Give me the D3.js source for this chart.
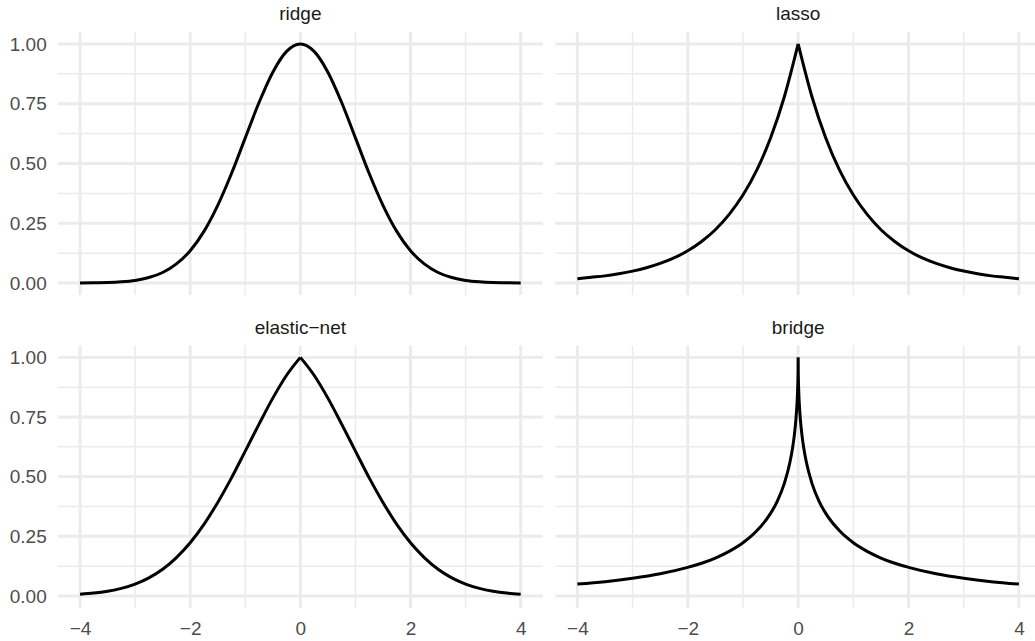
<!DOCTYPE html>
<html>
<head>
<meta charset="utf-8">
<script src="https://cdn.jsdelivr.net/npm/d3@7"></script>
<style>
  html, body { margin: 0; padding: 0; background: #ffffff; }
  svg { display: block; font-family: "Liberation Sans", Arial, Helvetica, sans-serif; }
</style>
</head>
<body>
<svg id="chart" width="1035" height="641"></svg>
<script>
// ---------------- data ----------------
const panelNames = ["ridge", "lasso", "elastic\u2212net", "bridge"];

const xTickValues = [-4, -2, 0, 2, 4];
const xTickLabels = ["\u22124", "\u22122", "0", "2", "4"];
const xMinorValues = [-3, -1, 1, 3];
const yTickValues = [0, 0.25, 0.5, 0.75, 1];
const yTickLabels = ["0.00", "0.25", "0.50", "0.75", "1.00"];
const yMinorValues = [0.125, 0.375, 0.625, 0.875];

// common x grid for ridge, lasso, elastic-net
const xGrid = [-4, -3.75, -3.5, -3.25, -3, -2.75, -2.5, -2.25, -2, -1.75, -1.5, -1.25, -1, -0.75, -0.5, -0.25,
               0, 0.25, 0.5, 0.75, 1, 1.25, 1.5, 1.75, 2, 2.25, 2.5, 2.75, 3, 3.25, 3.5, 3.75, 4];

const ridgeY = [0.000, 0.001, 0.002, 0.005, 0.011, 0.023, 0.044, 0.080, 0.135, 0.216, 0.325, 0.458, 0.607, 0.755, 0.882, 0.969,
                1.000, 0.969, 0.882, 0.755, 0.607, 0.458, 0.325, 0.216, 0.135, 0.080, 0.044, 0.023, 0.011, 0.005, 0.002, 0.001, 0.000];

const lassoY = [0.018, 0.024, 0.030, 0.039, 0.050, 0.064, 0.082, 0.105, 0.135, 0.174, 0.223, 0.287, 0.368, 0.472, 0.607, 0.779,
                1.000, 0.779, 0.607, 0.472, 0.368, 0.287, 0.223, 0.174, 0.135, 0.105, 0.082, 0.064, 0.050, 0.039, 0.030, 0.024, 0.018];

const elasticY = [0.007, 0.012, 0.020, 0.032, 0.050, 0.076, 0.112, 0.161, 0.223, 0.300, 0.392, 0.495, 0.607, 0.720, 0.829, 0.925,
                  1.000, 0.925, 0.829, 0.720, 0.607, 0.495, 0.392, 0.300, 0.223, 0.161, 0.112, 0.076, 0.050, 0.032, 0.020, 0.012, 0.007];

// bridge needs a finer grid near zero
const bridgeX = [-4, -3.5, -3, -2.5, -2, -1.75, -1.5, -1.25, -1, -0.75, -0.5, -0.375, -0.25, -0.15, -0.1, -0.07, -0.04, -0.02, -0.01, -0.005, -0.002,
                 0, 0.002, 0.005, 0.01, 0.02, 0.04, 0.07, 0.1, 0.15, 0.25, 0.375, 0.5, 0.75, 1, 1.25, 1.5, 1.75, 2, 2.5, 3, 3.5, 4];
const bridgeY = [0.050, 0.060, 0.074, 0.093, 0.120, 0.137, 0.159, 0.187, 0.223, 0.273, 0.346, 0.399, 0.472, 0.559, 0.622, 0.672, 0.741, 0.809, 0.861, 0.899, 0.935,
                 1.000, 0.935, 0.899, 0.861, 0.809, 0.741, 0.672, 0.622, 0.559, 0.472, 0.399, 0.346, 0.273, 0.223, 0.187, 0.159, 0.137, 0.120, 0.093, 0.074, 0.060, 0.050];

const seriesX = [xGrid, xGrid, xGrid, bridgeX];
const seriesY = [ridgeY, lassoY, elasticY, bridgeY];
const hasCusp = [false, true, true, true];

// ---------------- layout ----------------
const svg = d3.select("#chart");
const colLeft = [[58, 542.7], [555.3, 1041]];
const rowTop = [[32.0, 295.0], [345.4, 607.9]];

const xDomain = [-4.4, 4.4];
const yDomain = [-0.05, 1.05];

const clip = svg.append("defs").append("clipPath").attr("id", "page")
  .append("rect").attr("x", 0).attr("y", 0).attr("width", 1035).attr("height", 641);

const root = svg.append("g").attr("clip-path", "url(#page)");

panelNames.forEach((name, i) => {
  const col = i % 2, row = Math.floor(i / 2);
  const x = d3.scaleLinear().domain(xDomain).range(colLeft[col]);
  const y = d3.scaleLinear().domain(yDomain).range([rowTop[row][1], rowTop[row][0]]);
  const g = root.append("g");

  // minor grid
  g.selectAll(".vminor").data(xMinorValues).join("line")
    .attr("x1", d => x(d)).attr("x2", d => x(d))
    .attr("y1", y.range()[0]).attr("y2", y.range()[1])
    .attr("stroke", "#EBEBEB").attr("stroke-width", 1.5);
  g.selectAll(".hminor").data(yMinorValues).join("line")
    .attr("y1", d => y(d)).attr("y2", d => y(d))
    .attr("x1", x.range()[0]).attr("x2", x.range()[1])
    .attr("stroke", "#EBEBEB").attr("stroke-width", 1.5);
  // major grid
  g.selectAll(".vmajor").data(xTickValues).join("line")
    .attr("x1", d => x(d)).attr("x2", d => x(d))
    .attr("y1", y.range()[0]).attr("y2", y.range()[1])
    .attr("stroke", "#EBEBEB").attr("stroke-width", 2.9);
  g.selectAll(".hmajor").data(yTickValues).join("line")
    .attr("y1", d => y(d)).attr("y2", d => y(d))
    .attr("x1", x.range()[0]).attr("x2", x.range()[1])
    .attr("stroke", "#EBEBEB").attr("stroke-width", 2.9);

  // curve
  const pts = seriesX[i].map((xv, k) => [xv, seriesY[i][k]]);
  const line = d3.line().x(d => x(d[0])).y(d => y(d[1])).curve(d3.curveMonotoneX);
  let parts;
  if (hasCusp[i]) {
    const peak = d3.maxIndex(pts, d => d[1]);
    parts = [pts.slice(0, peak + 1), pts.slice(peak)];
  } else {
    parts = [pts];
  }
  const pathD = parts.map(p => line(p)).join("");
  g.append("path").attr("d", pathD)
    .attr("fill", "none").attr("stroke", "#000000").attr("stroke-width", 3.0)
    .attr("stroke-linejoin", "round").attr("stroke-linecap", "butt");

  // strip title
  g.append("text")
    .attr("x", (x.range()[0] + x.range()[1]) / 2)
    .attr("y", rowTop[row][0] - 11.7)
    .attr("text-anchor", "middle")
    .attr("fill", "#1A1A1A").attr("font-size", 19)
    .text(name);

  // axes
  if (col === 0) {
    const ya = d3.axisLeft(y).tickValues(yTickValues)
      .tickFormat((d, k) => yTickLabels[k]).tickSize(0).tickPadding(11.3);
    const ag = g.append("g").attr("transform", `translate(${x.range()[0]},0)`).call(ya);
    ag.select(".domain").remove();
    ag.selectAll("text").attr("fill", "#4D4D4D").attr("font-size", 19)
      .attr("font-family", "'Liberation Sans', Arial, sans-serif");
  }
  if (row === 1) {
    const xa = d3.axisBottom(x).tickValues(xTickValues)
      .tickFormat((d, k) => xTickLabels[k]).tickSize(0).tickPadding(13.8);
    const ag = g.append("g").attr("transform", `translate(0,${y.range()[0]})`).call(xa);
    ag.select(".domain").remove();
    ag.selectAll("text").attr("fill", "#4D4D4D").attr("font-size", 19)
      .attr("font-family", "'Liberation Sans', Arial, sans-serif");
  }
});
</script>
</body>
</html>
